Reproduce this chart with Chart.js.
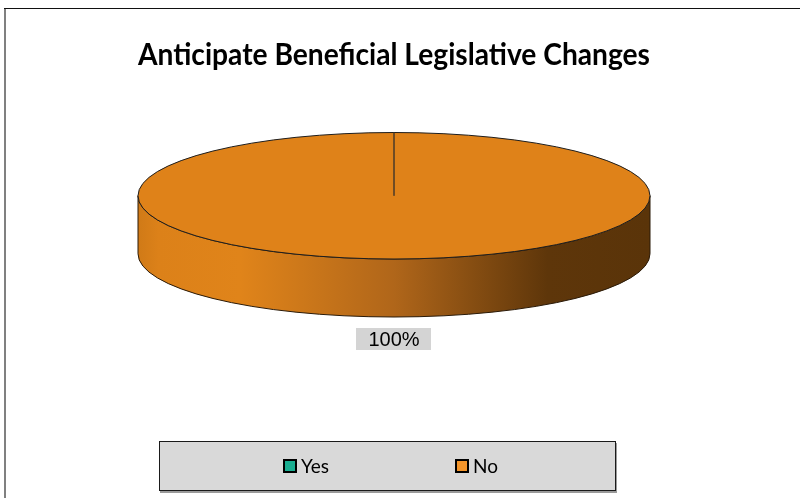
<!DOCTYPE html>
<html>
<head>
<meta charset="utf-8">
<script src="https://cdn.jsdelivr.net/npm/chart.js@4/dist/chart.umd.min.js"></script>
<style>
  html, body { margin: 0; padding: 0; background: #fff; }
  #wrap { width: 800px; height: 498px; position: relative; }
</style>
</head>
<body>
<div id="wrap"><canvas id="c" width="800" height="498"></canvas></div>
<script>
const chartTitle = 'Anticipate Beneficial Legislative Changes';
const categories = ['Yes', 'No'];
const values = [0, 100];

const sliceColors = ['#1AAE91', '#DF8219'];
const legendColors = ['#1AAE91', '#F3952B'];

const frame = {
  id: 'frame',
  beforeDraw(chart) {
    const ctx = chart.ctx;
    ctx.save();
    ctx.fillStyle = '#fff';
    ctx.fillRect(0, 0, chart.width, chart.height);
    ctx.fillStyle = '#808080';
    ctx.fillRect(4, 8, 2, chart.height - 8);
    ctx.fillStyle = '#111';
    ctx.fillRect(4, 8, chart.width - 4, 1);
    ctx.restore();
  }
};

function arcGeom(chart, opts) {
  const meta = chart.getDatasetMeta(0);
  const a0 = meta.data[0];
  const ca = chart.chartArea;
  const r = a0.outerRadius;
  const sx = (ca.width / 2) / r;
  return { meta, cx: a0.x, cy: a0.y, r, sx, rx: r * sx, ry: r, d: opts.depth };
}

const pie3d = {
  id: 'pie3d',
  beforeDatasetsDraw(chart, args, opts) {
    const g = arcGeom(chart, opts);
    const ctx = chart.ctx;
    const { cx, cy, rx, ry, d } = g;
    ctx.save();
    const grad = ctx.createLinearGradient(cx - rx, 0, cx + rx, 0);
    grad.addColorStop(0, '#D07A17');
    grad.addColorStop(0.04, '#DC8119');
    grad.addColorStop(0.2, '#E0841A');
    grad.addColorStop(0.5, '#B0661A');
    grad.addColorStop(0.8, '#5E360A');
    grad.addColorStop(1, '#5A3409');
    const TAU = Math.PI * 2;
    g.meta.data.forEach(arc => {
      const s = arc.startAngle, e = arc.endAngle;
      if (e - s <= 0) return;
      for (let k = -1; k <= 2; k++) {
        const lo = Math.max(s, k * TAU), hi = Math.min(e, k * TAU + Math.PI);
        if (hi <= lo) continue;
        ctx.beginPath();
        ctx.moveTo(cx + rx * Math.cos(lo), cy + ry * Math.sin(lo));
        ctx.ellipse(cx, cy, rx, ry, 0, lo, hi, false);
        ctx.lineTo(cx + rx * Math.cos(hi), cy + ry * Math.sin(hi) + d);
        ctx.ellipse(cx, cy + d, rx, ry, 0, hi, lo, true);
        ctx.closePath();
        ctx.fillStyle = grad;
        ctx.fill();
        ctx.lineWidth = 1;
        ctx.strokeStyle = '#2a1a08';
        ctx.stroke();
      }
    });
    ctx.restore();
    ctx.save();
    ctx.translate(cx, cy);
    ctx.scale(g.sx, 1);
    ctx.translate(-cx, -cy);
  },
  afterDatasetsDraw(chart, args, opts) {
    const ctx = chart.ctx;
    ctx.restore();
    const g = arcGeom(chart, opts);
    const { cx, cy, rx, ry, d } = g;
    ctx.save();
    ctx.beginPath();
    ctx.ellipse(cx, cy, rx, ry, 0, 0, Math.PI * 2);
    ctx.lineWidth = 1;
    ctx.strokeStyle = '#1e1e1e';
    ctx.stroke();
    ctx.beginPath();
    g.meta.data.forEach(arc => {
      ctx.moveTo(cx, cy);
      ctx.lineTo(cx + rx * Math.cos(arc.startAngle), cy + ry * Math.sin(arc.startAngle));
    });
    ctx.strokeStyle = '#4a3a28';
    ctx.stroke();

    // data labels
    const ds = chart.data.datasets[0].data;
    const total = ds.reduce((a, b) => a + b, 0);
    ctx.font = '20px "Liberation Sans", Arial, sans-serif';
    ctx.textAlign = 'center';
    ctx.textBaseline = 'middle';
    g.meta.data.forEach((arc, i) => {
      if (!ds[i]) return;
      const mid = (arc.startAngle + arc.endAngle) / 2;
      const off = opts.labelOffset;
      const sn = Math.sin(mid), cs = Math.cos(mid);
      const x = cx + cs * (rx + off);
      const y = cy + sn * (ry + off) + (sn > 0 ? d : 0);
      const txt = Math.round(ds[i] / total * 100) + '%';
      const w = ctx.measureText(txt).width + 24;
      const h = 22;
      ctx.fillStyle = '#D4D4D4';
      ctx.fillRect(Math.round(x - w / 2), Math.round(y - h / 2), Math.round(w), h);
      ctx.fillStyle = '#000';
      ctx.fillText(txt, x, y + 1);
    });
    ctx.restore();
  }
};

const boxLegend = {
  id: 'boxLegend',
  afterDraw(chart, args, opts) {
    const ctx = chart.ctx;
    const b = opts.box;
    ctx.save();
    ctx.fillStyle = '#9a9a9a';
    ctx.fillRect(b.x + 1, b.y + 2, b.w, b.h);
    ctx.fillStyle = '#D9D9D9';
    ctx.fillRect(b.x, b.y, b.w, b.h);
    ctx.strokeStyle = '#1a1a1a';
    ctx.lineWidth = 1;
    ctx.strokeRect(b.x + 0.5, b.y + 0.5, b.w - 1, b.h - 1);
    ctx.font = '19px Lato, sans-serif';
    ctx.textBaseline = 'middle';
    ctx.textAlign = 'left';
    chart.data.labels.forEach((lab, i) => {
      const x = opts.startX + i * opts.step;
      const y = b.y + b.h / 2;
      ctx.fillStyle = legendColors[i];
      ctx.fillRect(x, y - 7, 14, 14);
      ctx.lineWidth = 2;
      ctx.strokeStyle = '#000';
      ctx.strokeRect(x + 1, y - 6, 12, 12);
      ctx.fillStyle = '#000';
      ctx.fillText(lab, x + 18, y + 1);
    });
    ctx.restore();
  }
};

new Chart(document.getElementById('c'), {
  type: 'pie',
  data: {
    labels: categories,
    datasets: [{
      data: values,
      backgroundColor: sliceColors,
      borderWidth: 0
    }]
  },
  options: {
    responsive: false,
    animation: false,
    events: [],
    layout: { padding: { left: 138, right: 150, top: 0, bottom: 239 } },
    plugins: {
      legend: { display: false },
      tooltip: { enabled: false },
      title: {
        display: true,
        text: chartTitle,
        color: '#000',
        font: { family: 'Lato', size: 30, weight: 'bold', lineHeight: 1.2 },
        padding: { top: 37, bottom: 59.5 }
      },
      pie3d: { depth: 58, labelOffset: 22 },
      boxLegend: { box: { x: 159, y: 441, w: 457, h: 50 }, startX: 283, step: 172 }
    }
  },
  plugins: [frame, pie3d, boxLegend]
});
</script>
</body>
</html>
